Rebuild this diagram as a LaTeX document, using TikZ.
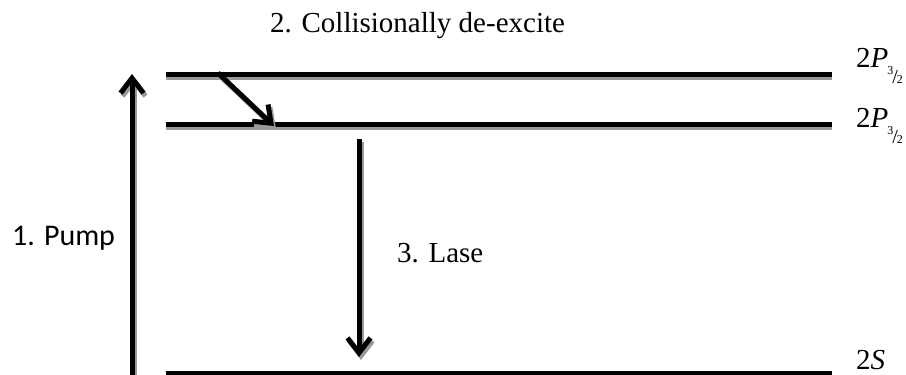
\documentclass[tikz,border=0pt]{standalone}
\usepackage{fontspec}
\setmainfont{Liberation Serif}
\newfontfamily\calibri{Carlito}
\usetikzlibrary{arrows.meta}

\tikzset{
  level/.style={black, line width=5pt},
  levelshade/.style={black!40, line width=5pt},
  jump/.style={black, line width=5pt, -{Straight Barb[length=15pt,width=23pt,line width=5pt]}},
  lbl/.style={font=\fontsize{29}{34}\selectfont, inner sep=0pt, anchor=base west},
}
\newcommand{\slfrac}[2]{\kern-1pt{\fontsize{12}{12}\selectfont\raisebox{-7pt}{#1}\kern-1pt\raisebox{-16pt}{\fontsize{20}{20}\selectfont/}\kern-1pt\raisebox{-16pt}{#2}}}

\begin{document}
\begin{tikzpicture}[x=1pt,y=-1pt]
\useasboundingbox (0,0) rectangle (906,375);

\coordinate (l1a) at (166,74);  \coordinate (l1b) at (832,74);
\coordinate (l2a) at (166,124); \coordinate (l2b) at (832,124);
\coordinate (l3a) at (166,373); \coordinate (l3b) at (832,373);

\draw[levelshade] ([yshift=-3pt]l1a) -- ([yshift=-3pt]l1b);
\draw[levelshade] ([yshift=-3pt]l2a) -- ([yshift=-3pt]l2b);
\draw[level] (l1a) -- (l1b);
\draw[level] (l2a) -- (l2b);
\draw[level] (l3a) -- (l3b);

\coordinate (pumpS) at (132,378); \coordinate (pumpE) at (132,74);
\coordinate (colS) at (218,73);   \coordinate (colE) at (274,126);
\coordinate (laseS) at (359,139); \coordinate (laseE) at (359,357);

\draw[jump, black!40] ([xshift=2pt,yshift=-3pt]colS) -- ([xshift=2pt,yshift=-3pt]colE);
\draw[jump] (colS) -- (colE);
\draw[jump, black!40] ([xshift=2pt,yshift=-3pt]pumpS) -- ([xshift=2pt,yshift=-3pt]pumpE);
\draw[jump] (pumpS) -- (pumpE);
\draw[jump, black!40] ([xshift=2pt,yshift=-3pt]laseS) -- ([xshift=2pt,yshift=-3pt]laseE);
\draw[jump] (laseS) -- (laseE);

\node[lbl] (collide) at (270,32) {2. Collisionally de-excite};
\node[lbl, font=\calibri\fontsize{30}{36}\selectfont] (pump) at (12,245) {1. Pump};
\node[lbl] (lase) at (397,262) {3. Lase};
\node[lbl] (p32a) at (856,67) {2\textit{P}\slfrac{3}{2}};
\node[lbl] (p32b) at (856,127) {2\textit{P}\slfrac{3}{2}};
\node[lbl] (s) at (856,369) {2\textit{S}};
\end{tikzpicture}
\end{document}
